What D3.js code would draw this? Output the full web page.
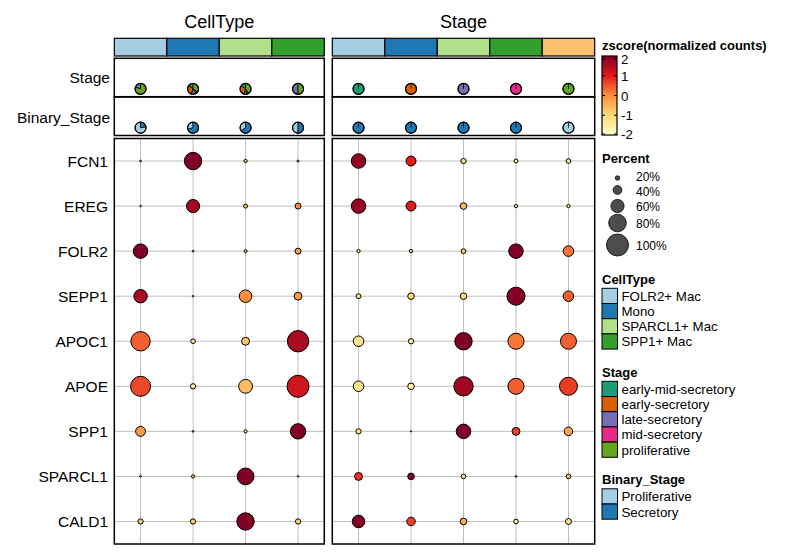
<!DOCTYPE html>
<html><head><meta charset="utf-8">
<script src="https://cdn.jsdelivr.net/npm/d3@7"></script>
<style>body{margin:0;background:#fff}svg{font-family:"Liberation Sans",Arial,sans-serif}</style>
</head><body><svg id="c" width="786" height="559"></svg>
<script>
const genes = ["FCN1","EREG","FOLR2","SEPP1","APOC1","APOE","SPP1","SPARCL1","CALD1"];
const cellTypes = ["FOLR2+ Mac","Mono","SPARCL1+ Mac","SPP1+ Mac"];
const stages = ["early-mid-secretory","early-secretory","late-secretory","mid-secretory","proliferative"];
const binaryStages = ["Proliferative","Secretory"];
const colorTicks = [2,1,0,-1,-2];
const sizeTicks = [20,40,60,80,100];
// percent (rows = genes, cols = cell types)
const pctCell = [
 [8,79,15,9],[7,60,18,27],[66,8,14,27],[61,7,57,36],[88,21,36,97],
 [91,24,63,100],[45,8,15,70],[8,15,76,7],[24,24,79,24]];
const zCell = [
 [-0.6,2.0,-0.8,-0.5],[-0.7,1.7,-0.8,0.0],[2.0,-0.7,-0.7,-0.3],[1.6,-0.8,0.0,-0.2],[0.4,-1.3,-0.8,1.6],
 [0.6,-1.5,-0.6,1.2],[-0.2,-0.9,-1.0,2.0],[-0.3,-0.7,2.0,-0.9],[-0.8,-0.8,2.0,-0.9]];
const pctStage = [
 [66,45,24,18,21],[66,45,30,15,15],[15,15,22,66,48],[22,30,30,82,48],[48,24,79,73,73],
 [48,30,88,73,82],[24,6,66,36,39],[36,30,21,8,21],[57,39,30,21,27]];
const zStage = [
 [1.8,1.0,-1.2,-1.3,-1.4],[1.8,1.0,-0.6,-1.4,-1.4],[-1.3,-1.3,-0.8,2.0,0.2],[-1.2,-1.0,-1.0,2.0,0.4],[-1.3,-1.6,2.0,0.2,0.4],
 [-1.3,-1.6,1.7,0.4,0.7],[-1.1,-1.5,2.0,0.7,-0.3],[0.8,1.9,-1.2,-0.8,-0.6],[2.0,0.7,-0.4,-1.5,-1.3]];
// pie fractions: stage composition of each cell type
const pieStageCell = [[0,0,0.2,0,0.8],[0.15,0.3,0.15,0.05,0.35],[0.15,0.3,0.1,0.05,0.4],[0,0,0.5,0,0.5]];
const pieBinaryCell = [[0.78,0.22],[0.3,0.7],[0.35,0.65],[0.5,0.5]];
const pieStageStage = [[1,0,0,0,0],[0,1,0,0,0],[0,0,1,0,0],[0,0,0,1,0],[0,0,0,0,1]];
const pieBinaryStage = [[0,1],[0,1],[0,1],[0,1],[1,0]];

const colBarColors = ["#A6CEE3","#1F78B4","#B2DF8A","#33A02C","#FDBF6F"];
const stageColors = ["#1B9E77","#D95F02","#7570B3","#E7298A","#66A61E"];
const binaryColors = ["#A6CEE3","#1F78B4"];

const svg = d3.select("#c");
const color = d3.scaleLinear().domain([-2,-1,0,1,2]).range(["#FFFFCC","#FED976","#FD8D3C","#E31A1C","#800026"]).clamp(true);
const rScale = d3.scaleLinear().domain([0,100]).range([0,11]);
const y = d3.scaleBand().domain(genes).range([138.5,544]);
const grid = "#BEBEBE";

const panels = [
 {title:"CellType", cols:cellTypes, x0:114.3, x1:324.3, pct:pctCell, z:zCell, pieS:pieStageCell, pieB:pieBinaryCell},
 {title:"Stage", cols:stages, x0:332.3, x1:594.7, pct:pctStage, z:zStage, pieS:pieStageStage, pieB:pieBinaryStage}
];
const annY = {bar:[38.3,56], stage:[58.3,96.7], bin:[97,135.5]};

function drawPie(g, cx, cy, fr, cols){
  const r = 5.5;
  const pie = d3.pie().sort(null).startAngle(0).endAngle(-2*Math.PI);
  const arc = d3.arc().innerRadius(0).outerRadius(r);
  const arcs = pie(fr);
  g.selectAll(null).data(arcs.filter(a=>a.data>0)).join("path")
   .attr("transform",`translate(${cx},${cy})`).attr("d",arc)
   .attr("fill",(d)=>cols[d.index]).attr("stroke","#000").attr("stroke-width",0.8);
  g.append("circle").attr("cx",cx).attr("cy",cy).attr("r",r).attr("fill","none").attr("stroke","#000").attr("stroke-width",1.2);
  if(fr.filter(v=>v>0).length===1){
    g.append("line").attr("x1",cx).attr("x2",cx).attr("y1",cy).attr("y2",cy-r).attr("stroke","#000").attr("stroke-width",0.8);
  }
}

panels.forEach(p=>{
  const x = d3.scaleBand().domain(p.cols).range([p.x0,p.x1]);
  const g = svg.append("g");
  g.append("text").attr("x",(p.x0+p.x1)/2).attr("y",27.5).attr("text-anchor","middle").attr("font-size",18).text(p.title);
  // column bar
  g.selectAll(null).data(p.cols).join("rect")
   .attr("x",d=>x(d)).attr("y",annY.bar[0]).attr("width",x.bandwidth()).attr("height",annY.bar[1]-annY.bar[0])
   .attr("fill",(d,i)=>colBarColors[i]).attr("stroke","#000").attr("stroke-width",1.2);
  // annotation boxes
  [["stage",p.pieS,stageColors],["bin",p.pieB,binaryColors]].forEach(([k,fr,cols])=>{
    g.append("rect").attr("x",p.x0).attr("y",annY[k][0]).attr("width",p.x1-p.x0).attr("height",annY[k][1]-annY[k][0])
     .attr("fill","none").attr("stroke","#000").attr("stroke-width",1.5);
    p.cols.forEach((c,i)=>drawPie(g, x(c)+x.bandwidth()/2, annY[k][1]-7.8, fr[i], cols));
  });
  // grid
  g.selectAll(null).data(p.cols).join("line").attr("x1",d=>x(d)+x.bandwidth()/2).attr("x2",d=>x(d)+x.bandwidth()/2)
   .attr("y1",y.range()[0]).attr("y2",y.range()[1]).attr("stroke",grid).attr("stroke-width",1);
  g.selectAll(null).data(genes).join("line").attr("x1",p.x0).attr("x2",p.x1)
   .attr("y1",d=>y(d)+y.bandwidth()/2).attr("y2",d=>y(d)+y.bandwidth()/2).attr("stroke",grid).attr("stroke-width",1);
  // dots
  const pts=[];
  genes.forEach((gn,i)=>p.cols.forEach((c,j)=>pts.push({gn,c,pct:p.pct[i][j],z:p.z[i][j]})));
  g.selectAll(null).data(pts).join("circle")
   .attr("cx",d=>x(d.c)+x.bandwidth()/2).attr("cy",d=>y(d.gn)+y.bandwidth()/2)
   .attr("r",d=>rScale(d.pct)).attr("fill",d=>color(d.z)).attr("stroke","#000").attr("stroke-width",1);
  g.append("rect").attr("x",p.x0).attr("y",y.range()[0]).attr("width",p.x1-p.x0).attr("height",y.range()[1]-y.range()[0])
   .attr("fill","none").attr("stroke","#000").attr("stroke-width",1.5);
});

// row labels
svg.selectAll(null).data(genes).join("text").attr("x",108).attr("y",d=>y(d)+y.bandwidth()/2+5.5)
 .attr("text-anchor","end").attr("font-size",15.5).text(d=>d);
svg.append("text").attr("x",110).attr("y",83).attr("text-anchor","end").attr("font-size",15.5).text("Stage");
svg.append("text").attr("x",110).attr("y",123).attr("text-anchor","end").attr("font-size",15.5).text("Binary_Stage");

// legends
const L = svg.append("g");
const lx = 602;
const fs = 13.3;
L.append("text").attr("x",lx).attr("y",50).attr("font-size",13).attr("font-weight","bold").text("zscore(normalized counts)");
const cy = d3.scaleLinear().domain([-2,2]).range([135,56]);
const defs = svg.append("defs");
const grad = defs.append("linearGradient").attr("id","gz").attr("x1",0).attr("x2",0).attr("y1",1).attr("y2",0);
d3.range(-2,2.01,0.25).forEach(v=>grad.append("stop").attr("offset",(v+2)/4).attr("stop-color",color(v)));
L.append("rect").attr("x",lx).attr("y",cy(2)).attr("width",15).attr("height",cy(-2)-cy(2)).attr("fill","url(#gz)").attr("stroke","#000").attr("stroke-width",1.2);
colorTicks.forEach(v=>{
  const yy = cy(v)+(v===2?3:v===-2?-1:0);
  L.append("line").attr("x1",lx).attr("x2",lx+3).attr("y1",yy).attr("y2",yy).attr("stroke","#000");
  L.append("line").attr("x1",lx+12).attr("x2",lx+15).attr("y1",yy).attr("y2",yy).attr("stroke","#000");
  L.append("text").attr("x",lx+19).attr("y",yy+5).attr("font-size",fs).text(v);
});
L.append("text").attr("x",lx).attr("y",163).attr("font-size",13).attr("font-weight","bold").text("Percent");
const sizeY = [178,190,206,223,245];
const sizeLabY = [176.5,192,207,224,246];
sizeTicks.forEach((v,i)=>{
  L.append("circle").attr("cx",617.5).attr("cy",sizeY[i]).attr("r",rScale(v)).attr("fill","#4D4D4D").attr("stroke","#000").attr("stroke-width",0.8);
  L.append("text").attr("x",636).attr("y",sizeLabY[i]+4).attr("font-size",12).text(v+"%");
});
function catLegend(title, ty, items, cols){
  L.append("text").attr("x",lx).attr("y",ty).attr("font-size",13).attr("font-weight","bold").text(title);
  items.forEach((it,i)=>{
    const yy = ty+4.8+i*15.2;
    L.append("rect").attr("x",lx).attr("y",yy).attr("width",15.5).attr("height",15.2).attr("fill",cols[i]).attr("stroke","#000").attr("stroke-width",1);
    L.append("text").attr("x",lx+19.5).attr("y",yy+12.5).attr("font-size",fs).text(it);
  });
}
catLegend("CellType",283.5,cellTypes,colBarColors);
catLegend("Stage",376.5,stages,stageColors);
catLegend("Binary_Stage",484,binaryStages,binaryColors);
</script></body></html>
